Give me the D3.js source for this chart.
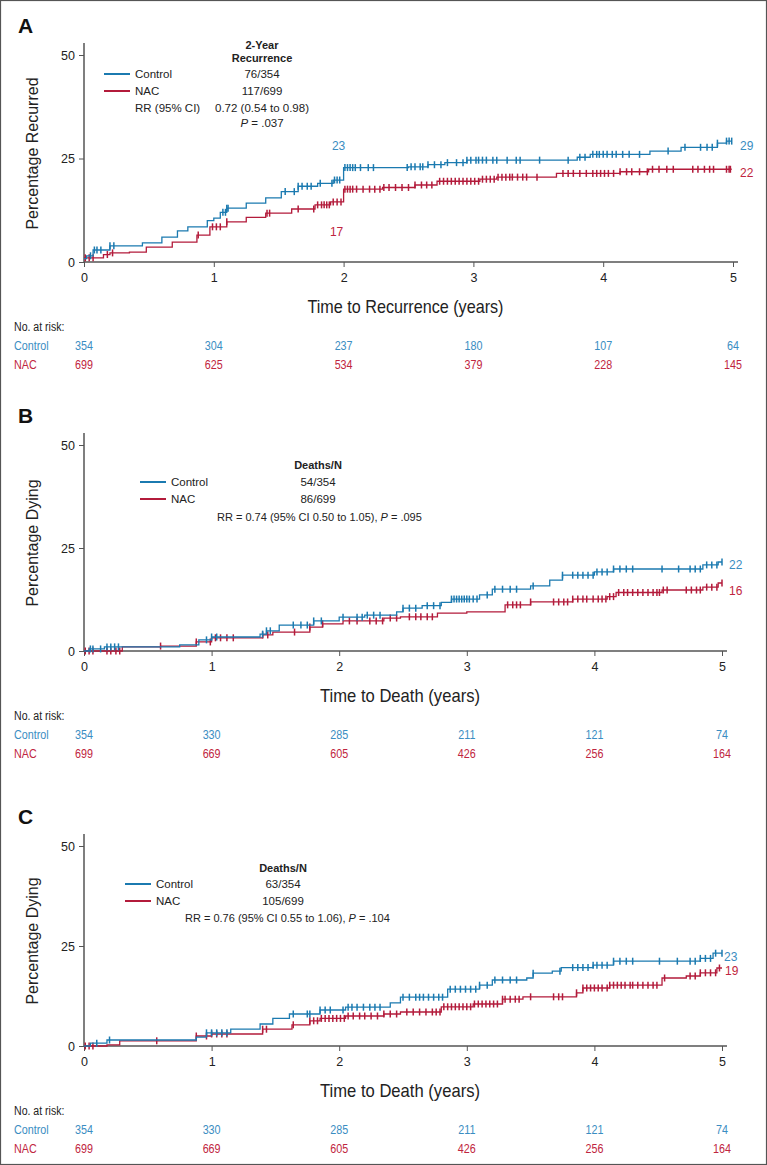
<!DOCTYPE html>
<html>
<head>
<meta charset="utf-8">
<script src="https://cdn.jsdelivr.net/npm/d3@7"></script>
<style>
  body { margin: 0; background: #fff; }
  svg text { font-family: "Liberation Sans", Arial, sans-serif; fill: #222; }
  .axis path, .axis line { stroke: #555; }
</style>
</head>
<body>
<svg id="chart" width="767" height="1165"></svg>
<script>
var BLUE = "#1b7ab0", RED = "#b31b3b";
var BLUE_T = "#3a8dc2", RED_T = "#bf2540";

var xTicks = [0, 1, 2, 3, 4, 5];
var yTicks = [0, 25, 50];

// step curves: [time (years), cumulative %]
var recControl = [[0,0.8],[0.02,1.5],[0.07,2.9],[0.2,3.9],[0.45,4.6],[0.6,6.0],[0.72,7.5],[0.8,8.5],[0.95,10.0],[1.0,10.6],[1.05,12.0],[1.1,13.0],[1.25,14.2],[1.4,15.5],[1.52,17.0],[1.65,18.3],[1.8,19.0],[1.92,19.8],[2.0,22.8],[2.5,23.0],[2.65,23.5],[2.78,24.0],[2.95,24.6],[3.8,25.3],[3.9,26.0],[4.36,26.8],[4.6,27.7],[4.88,28.7],[4.95,29.2]];
var recNAC = [[0,1.0],[0.15,1.8],[0.2,2.2],[0.35,2.4],[0.48,3.6],[0.68,4.8],[0.87,6.5],[0.97,8.5],[1.1,9.7],[1.25,10.8],[1.4,11.8],[1.6,12.8],[1.78,13.8],[1.9,14.5],[2.0,17.6],[2.3,18.0],[2.55,18.6],[2.72,19.5],[3.05,20.0],[3.18,20.5],[3.64,21.4],[4.13,21.8],[4.35,22.4]];
var recCensorControl = [0.05,0.08,0.1,0.13,0.2,0.23,1.07,1.09,1.1,1.11,1.55,1.62,1.65,1.68,1.72,1.75,1.82,1.91,1.93,1.95,1.97,2.01,2.03,2.05,2.07,2.09,2.13,2.19,2.23,2.49,2.52,2.55,2.59,2.61,2.65,2.7,2.75,2.8,2.87,2.92,2.95,2.98,3.02,3.04,3.07,3.1,3.15,3.18,3.26,3.33,3.36,3.51,3.73,3.82,3.86,3.92,3.95,3.97,4.0,4.03,4.07,4.1,4.15,4.2,4.28,4.5,4.63,4.75,4.8,4.84,4.88,4.95,4.97,4.99];
var recCensorNAC = [0.01,0.04,0.07,0.18,0.22,0.88,0.99,1.02,1.05,1.1,1.41,1.43,1.65,1.77,1.8,1.83,1.85,1.87,1.89,1.92,1.95,1.98,2.01,2.03,2.05,2.07,2.1,2.15,2.2,2.24,2.28,2.31,2.35,2.4,2.45,2.5,2.55,2.6,2.64,2.68,2.74,2.77,2.8,2.83,2.86,2.89,2.92,2.95,2.98,3.01,3.04,3.07,3.1,3.13,3.16,3.19,3.22,3.25,3.28,3.3,3.34,3.38,3.41,3.49,3.69,3.73,3.77,3.82,3.87,3.92,3.95,3.98,4.01,4.04,4.08,4.13,4.18,4.22,4.28,4.34,4.38,4.43,4.49,4.54,4.69,4.73,4.78,4.82,4.85,4.95,4.97,4.98];
var recRiskControl = [354, 304, 237, 180, 107, 64];
var recRiskNAC = [699, 625, 534, 379, 228, 145];

var osControl = [[0,0],[0.04,0.5],[0.16,1.0],[0.75,1.5],[0.9,2.7],[1.0,3.4],[1.38,4.1],[1.43,4.9],[1.53,6.3],[1.8,7.3],[2.0,8.2],[2.2,8.7],[2.45,9.5],[2.5,10.4],[2.65,11.0],[2.8,11.8],[2.88,12.6],[3.1,13.6],[3.2,15.0],[3.5,15.8],[3.65,17.2],[3.75,18.4],[4.0,19.2],[4.15,19.9],[4.85,20.9],[4.97,21.6]];
var osNAC = [[0,0],[0.3,1.0],[0.6,1.2],[0.88,2.2],[1.0,3.2],[1.4,3.9],[1.48,4.6],[1.77,5.8],[1.87,6.6],[2.03,7.3],[2.35,8.0],[2.48,8.3],[2.77,9.2],[3.0,9.5],[3.3,11.2],[3.5,11.9],[3.83,12.6],[4.1,13.2],[4.17,14.2],[4.53,14.8],[4.85,15.5],[4.97,16.5]];
var osCensorControl = [0.05,0.07,0.13,0.18,0.21,0.24,0.27,0.96,1.0,1.04,1.4,1.43,1.46,1.64,1.7,1.75,1.8,1.86,2.03,2.14,2.18,2.22,2.27,2.32,2.5,2.55,2.6,2.69,2.74,2.79,2.88,2.9,2.92,2.94,2.96,2.98,3.0,3.02,3.05,3.08,3.16,3.22,3.28,3.34,3.39,3.52,3.75,3.83,3.87,3.91,3.95,3.99,4.02,4.06,4.1,4.15,4.2,4.25,4.3,4.53,4.66,4.75,4.79,4.83,4.88,4.92,4.96,5.0];
var osCensorNAC = [0.01,0.04,0.07,0.18,0.21,0.25,0.28,0.6,0.88,0.99,1.03,1.07,1.12,1.17,1.4,1.44,1.65,1.77,1.87,2.08,2.14,2.24,2.29,2.34,2.4,2.45,2.55,2.6,2.64,2.69,2.73,3.32,3.36,3.39,3.42,3.5,3.68,3.72,3.76,3.79,3.83,3.87,3.91,3.94,3.99,4.03,4.06,4.09,4.12,4.15,4.19,4.23,4.26,4.3,4.34,4.38,4.42,4.46,4.49,4.51,4.54,4.57,4.72,4.76,4.8,4.83,4.88,4.92,4.96,5.0];
var osRiskControl = [354, 330, 285, 211, 121, 74];
var osRiskNAC = [699, 669, 605, 426, 256, 164];

var dfsControl = [[0,0],[0.05,0.7],[0.18,1.5],[0.88,2.2],[0.96,3.3],[1.15,4.2],[1.38,5.5],[1.48,6.9],[1.61,8.0],[1.85,9.0],[2.05,9.7],[2.4,10.8],[2.48,12.2],[2.85,14.2],[3.1,15.2],[3.2,16.5],[3.47,17.0],[3.52,18.2],[3.67,18.7],[3.74,19.6],[3.99,20.2],[4.15,21.2],[4.83,21.9],[4.93,23.2]];
var dfsNAC = [[0,0],[0.18,0.3],[0.28,1.3],[0.88,2.5],[1.0,3.0],[1.4,4.2],[1.63,5.3],[1.77,6.3],[1.85,6.9],[2.05,7.5],[2.35,8.0],[2.48,8.5],[2.8,9.8],[3.05,10.5],[3.28,11.7],[3.44,12.3],[3.86,13.3],[3.91,14.5],[4.12,15.2],[4.53,17.0],[4.72,17.5],[4.83,18.3],[4.96,19.5]];
var dfsCensorControl = [0.1,0.2,0.96,1.0,1.04,1.08,1.12,1.64,1.75,1.77,1.85,1.89,1.93,2.03,2.07,2.1,2.14,2.19,2.24,2.28,2.32,2.5,2.55,2.6,2.63,2.66,2.7,2.74,2.78,2.81,2.87,2.91,2.95,2.99,3.03,3.07,3.1,3.16,3.22,3.28,3.34,3.39,3.52,3.73,3.83,3.87,3.91,3.95,3.99,4.02,4.06,4.1,4.15,4.2,4.25,4.3,4.51,4.65,4.75,4.79,4.83,4.87,4.91,4.95,5.0];
var dfsCensorNAC = [0.01,0.04,0.07,0.57,0.88,0.96,1.0,1.04,1.08,1.12,1.4,1.43,1.64,1.77,1.8,1.83,1.86,1.89,1.92,1.95,1.98,2.01,2.04,2.07,2.11,2.16,2.2,2.25,2.3,2.35,2.4,2.45,2.53,2.58,2.63,2.68,2.73,2.76,2.79,2.82,2.85,2.88,2.91,2.94,2.97,3.0,3.03,3.06,3.09,3.12,3.15,3.18,3.21,3.24,3.28,3.3,3.34,3.38,3.41,3.5,3.68,3.72,3.75,3.86,3.91,3.94,3.97,4.0,4.03,4.06,4.1,4.12,4.15,4.18,4.21,4.24,4.28,4.3,4.34,4.38,4.42,4.46,4.49,4.55,4.75,4.79,4.83,4.87,4.91,4.95,4.98];
var dfsRiskControl = [354, 330, 285, 211, 121, 74];
var dfsRiskNAC = [699, 669, 605, 426, 256, 164];

var svg = d3.select("#chart");
svg.append("rect").attr("x", 0.5).attr("y", 0.5).attr("width", 766).attr("height", 1164)
  .attr("fill", "none").attr("stroke", "#555").attr("stroke-width", 1.2);

function stepAt(steps, t) {
  var i = d3.bisector(function(d) { return d[0]; }).right(steps, t) - 1;
  return steps[Math.max(0, i)][1];
}

// squeeze text horizontally (condensed face look)
function narrow(sel, f) {
  sel.each(function() {
    var w = this.getComputedTextLength();
    d3.select(this).attr("textLength", w * f).attr("lengthAdjust", "spacingAndGlyphs");
  });
  return sel;
}

function drawPanel(p) {
  var g = svg.append("g");
  var x = d3.scaleLinear().domain([0, 5]).range([84, p.xEnd]);
  var y = d3.scaleLinear().domain([0, 50]).range([p.y0, p.y50]);

  g.append("text").attr("x", 18).attr("y", p.y50 - 22).attr("font-size", 21).attr("font-weight", "bold")
    .style("fill", "#111").text(p.letter);

  // axes
  var ya = g.append("g").attr("class", "axis").attr("transform", "translate(84,0)")
    .call(d3.axisLeft(y).tickValues(yTicks).tickSize(5).tickPadding(4));
  ya.select(".domain").remove();
  g.append("line").attr("x1", 84).attr("x2", 84).attr("y1", p.y50 - 12).attr("y2", p.y0)
    .attr("stroke", "#555").attr("stroke-width", 1.5);
  var xa = g.append("g").attr("class", "axis").attr("transform", "translate(0," + p.y0 + ")")
    .call(d3.axisBottom(x).tickValues(xTicks).tickSize(5).tickPadding(6).tickFormat(d3.format("d")));
  xa.select(".domain").remove();
  g.append("line").attr("x1", 84).attr("x2", p.xEnd + 5).attr("y1", p.y0).attr("y2", p.y0)
    .attr("stroke", "#555").attr("stroke-width", 1.5);
  g.selectAll(".axis text").attr("font-size", 12.5).style("fill", "#222");

  g.append("text").attr("transform", "translate(38," + ((p.y0 + p.y50) / 2 - 5) + ") rotate(-90)")
    .attr("text-anchor", "middle").attr("font-size", 16).text(p.yTitle);
  g.append("text").attr("x", (84 + p.xEnd) / 2 - 3).attr("y", p.y0 + 51)
    .attr("text-anchor", "middle").attr("font-size", 18.5).text(p.xTitle)
    .attr("textLength", p.titleW).attr("lengthAdjust", "spacingAndGlyphs");

  // risk table
  narrow(g.append("text").attr("x", 14).attr("y", p.y0 + 69).attr("font-size", 12).text("No. at risk:"), 0.88);
  [[p.riskC, "Control", BLUE_T, 88], [p.riskN, "NAC", RED_T, 107]].forEach(function(r) {
    narrow(g.append("text").attr("x", 14).attr("y", p.y0 + r[3]).attr("font-size", 12.5)
      .style("fill", r[2]).text(r[1]), 0.86);
    narrow(g.selectAll(null).data(r[0]).enter().append("text")
      .attr("x", function(d, i) { return x(xTicks[i]); }).attr("y", p.y0 + r[3])
      .attr("text-anchor", "middle").attr("font-size", 12.5).style("fill", r[2])
      .text(function(d) { return d; }), 0.86);
  });

  // curves
  var line = d3.line().curve(d3.curveStepAfter)
    .x(function(d) { return x(d[0]); }).y(function(d) { return y(d[1]); });
  [[p.nac, p.cenN, RED], [p.control, p.cenC, BLUE]].forEach(function(c) {
    var pts = c[0].concat([[p.tEnd, c[0][c[0].length - 1][1]]]);
    g.append("path").datum(pts).attr("d", line).attr("fill", "none")
      .attr("stroke", c[2]).attr("stroke-width", 1.3);
    g.selectAll(null).data(c[1]).enter().append("line")
      .attr("x1", function(d) { return x(d); }).attr("x2", function(d) { return x(d); })
      .attr("y1", function(d) { return y(stepAt(c[0], d)) - 3.5; })
      .attr("y2", function(d) { return y(stepAt(c[0], d)) + 3.5; })
      .attr("stroke", c[2]).attr("stroke-width", 1.5);
  });

  // end labels
  p.labels.forEach(function(l) {
    g.append("text").attr("x", x(l.t) + l.dx).attr("y", y(l.v) + l.dy).attr("font-size", 12)
      .attr("text-anchor", l.anchor || "start").style("fill", l.c === "b" ? BLUE_T : RED_T).text(l.text);
  });

  // legend
  var L = p.legend;
  L.header.forEach(function(h, i) {
    g.append("text").attr("x", L.cx).attr("y", L.hy + i * 13).attr("text-anchor", "middle")
      .attr("font-size", 11).attr("font-weight", "bold").text(h);
  });
  [["Control", BLUE, L.counts[0]], ["NAC", RED, L.counts[1]]].forEach(function(e, i) {
    var yy = L.ly + i * 17;
    g.append("line").attr("x1", L.lx).attr("x2", L.lx + 26).attr("y1", yy).attr("y2", yy)
      .attr("stroke", e[1]).attr("stroke-width", 2);
    g.append("text").attr("x", L.lx + 31).attr("y", yy + 4).attr("font-size", 11.5).text(e[0]);
    g.append("text").attr("x", L.cx).attr("y", yy + 4).attr("text-anchor", "middle").attr("font-size", 11.5).text(e[2]);
  });
  return g;
}

var gA = drawPanel({
  letter: "A", y0: 262, y50: 55, xEnd: 733, tEnd: 4.99, titleW: 196,
  yTitle: "Percentage Recurred", xTitle: "Time to Recurrence (years)",
  control: recControl, nac: recNAC, cenC: recCensorControl, cenN: recCensorNAC,
  riskC: recRiskControl, riskN: recRiskNAC,
  labels: [{t: 5, v: 29.2, dx: 7, dy: 9, text: "29", c: "b"}, {t: 5, v: 22.4, dx: 7, dy: 8, text: "22", c: "r"},
           {t: 2, v: 22.8, dx: -5, dy: -18, text: "23", c: "b", anchor: "middle"},
           {t: 2, v: 14.5, dx: -7, dy: 34, text: "17", c: "r", anchor: "middle"}],
  legend: {cx: 262, hy: 49, header: ["2-Year", "Recurrence"], lx: 104, ly: 74, counts: ["76/354", "117/699"]}
});
gA.append("text").attr("x", 135).attr("y", 112).attr("font-size", 11.5).text("RR (95% CI)");
gA.append("text").attr("x", 262).attr("y", 112).attr("text-anchor", "middle").attr("font-size", 11.5).text("0.72 (0.54 to 0.98)");
var pa = gA.append("text").attr("x", 262).attr("y", 127).attr("text-anchor", "middle").attr("font-size", 11.5);
pa.append("tspan").attr("font-style", "italic").text("P");
pa.append("tspan").text(" = .037");

var gB = drawPanel({
  letter: "B", y0: 651, y50: 445, xEnd: 722, tEnd: 5.0, titleW: 160,
  yTitle: "Percentage Dying", xTitle: "Time to Death (years)",
  control: osControl, nac: osNAC, cenC: osCensorControl, cenN: osCensorNAC,
  riskC: osRiskControl, riskN: osRiskNAC,
  labels: [{t: 5, v: 21.6, dx: 7, dy: 7, text: "22", c: "b"}, {t: 5, v: 16.5, dx: 7, dy: 12, text: "16", c: "r"}],
  legend: {cx: 318, hy: 469, header: ["Deaths/N"], lx: 140, ly: 482, counts: ["54/354", "86/699"]}
});
var pb = gB.append("text").attr("x", 217).attr("y", 521).attr("font-size", 11);
pb.append("tspan").text("RR = 0.74 (95% CI 0.50 to 1.05), ");
pb.append("tspan").attr("font-style", "italic").text("P");
pb.append("tspan").text(" = .095");

var gC = drawPanel({
  letter: "C", y0: 1046, y50: 846, xEnd: 722, tEnd: 5.0, titleW: 160,
  yTitle: "Percentage Dying", xTitle: "Time to Death (years)",
  control: dfsControl, nac: dfsNAC, cenC: dfsCensorControl, cenN: dfsCensorNAC,
  riskC: dfsRiskControl, riskN: dfsRiskNAC,
  labels: [{t: 5, v: 23.2, dx: 2, dy: 8, text: "23", c: "b"}, {t: 5, v: 19.5, dx: 3, dy: 7, text: "19", c: "r"}],
  legend: {cx: 283, hy: 872, header: ["Deaths/N"], lx: 125, ly: 884, counts: ["63/354", "105/699"]}
});
var pc = gC.append("text").attr("x", 185).attr("y", 922).attr("font-size", 11);
pc.append("tspan").text("RR = 0.76 (95% CI 0.55 to 1.06), ");
pc.append("tspan").attr("font-style", "italic").text("P");
pc.append("tspan").text(" = .104");
</script>
</body>
</html>
